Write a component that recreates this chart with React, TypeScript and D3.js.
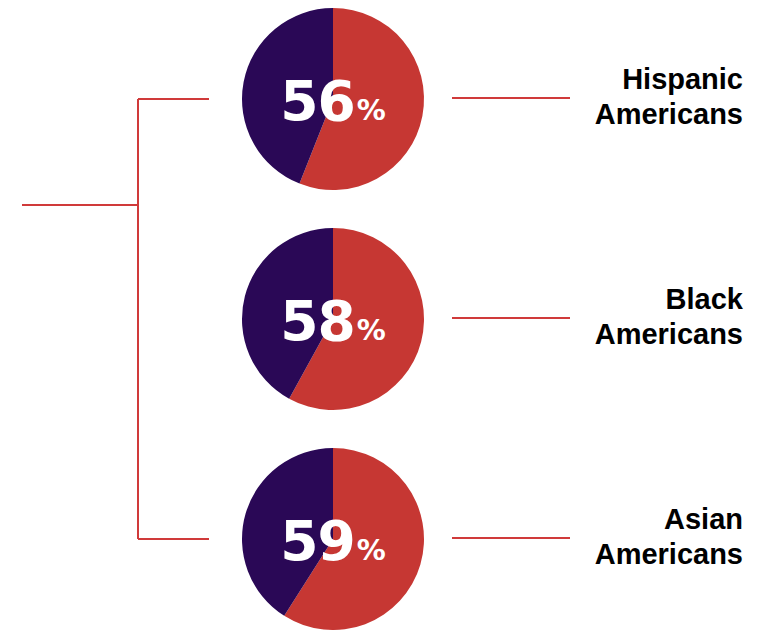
import React from "react";
import * as d3 from "d3";

const groups = ["Hispanic", "Black", "Asian"];
const percents = [56, 58, 59];
const labelSecond = "Americans";

const W = 774;
const H = 630;
const RED = "#c63733";
const PURPLE = "#2a0856";
const LINE = "#d03a3a";

export default function App() {
  const yScale = d3.scalePoint<string>().domain(groups).range([99, 539]);
  const r = 91;
  const cx = 333;
  const pie = d3.pie<number>().sort(null).value((d) => d);
  const arc = d3.arc<d3.PieArcDatum<number>>().innerRadius(0).outerRadius(r);
  const yTop = yScale(groups[0])!;
  const yBot = yScale(groups[groups.length - 1])!;
  return (
    <svg width={W} height={H} style={{ position: "absolute", left: 0, top: 0 }}>
      <rect width={W} height={H} fill="#fff" />
      <g stroke={LINE} strokeWidth={2} fill="none">
        <line x1={22} x2={138} y1={205} y2={205} />
        <line x1={138} x2={138} y1={yTop} y2={yBot} />
        <line x1={138} x2={209} y1={yTop} y2={yTop} />
        <line x1={138} x2={209} y1={yBot} y2={yBot} />
      </g>
      {groups.map((g, i) => {
        const cy = yScale(g)!;
        const arcs = pie([percents[i], 100 - percents[i]]);
        return (
          <g key={g}>
            <g transform={`translate(${cx},${cy})`}>
              {arcs.map((a, j) => (
                <path key={j} d={arc(a)!} fill={j === 0 ? RED : PURPLE} />
              ))}
              <text
                x={0}
                y={21}
                textAnchor="middle"
                fill="#fff"
                fontFamily="'DejaVu Sans', sans-serif"
                fontWeight="bold"
              >
                <tspan fontSize={55} letterSpacing={-1}>{percents[i]}</tspan>
                <tspan fontSize={29} dx={2}>%</tspan>
              </text>
            </g>
            <line x1={452} x2={570} y1={cy - 1} y2={cy - 1} stroke={LINE} strokeWidth={2} />
            <text
              x={743}
              textAnchor="end"
              fontFamily="'Liberation Sans', Arial, sans-serif"
              fontWeight="bold"
              fontSize={29}
              fill="#000"
            >
              <tspan x={743} y={cy - 10}>{g}</tspan>
              <tspan x={743} y={cy + 25}>{labelSecond}</tspan>
            </text>
          </g>
        );
      })}
    </svg>
  );
}
